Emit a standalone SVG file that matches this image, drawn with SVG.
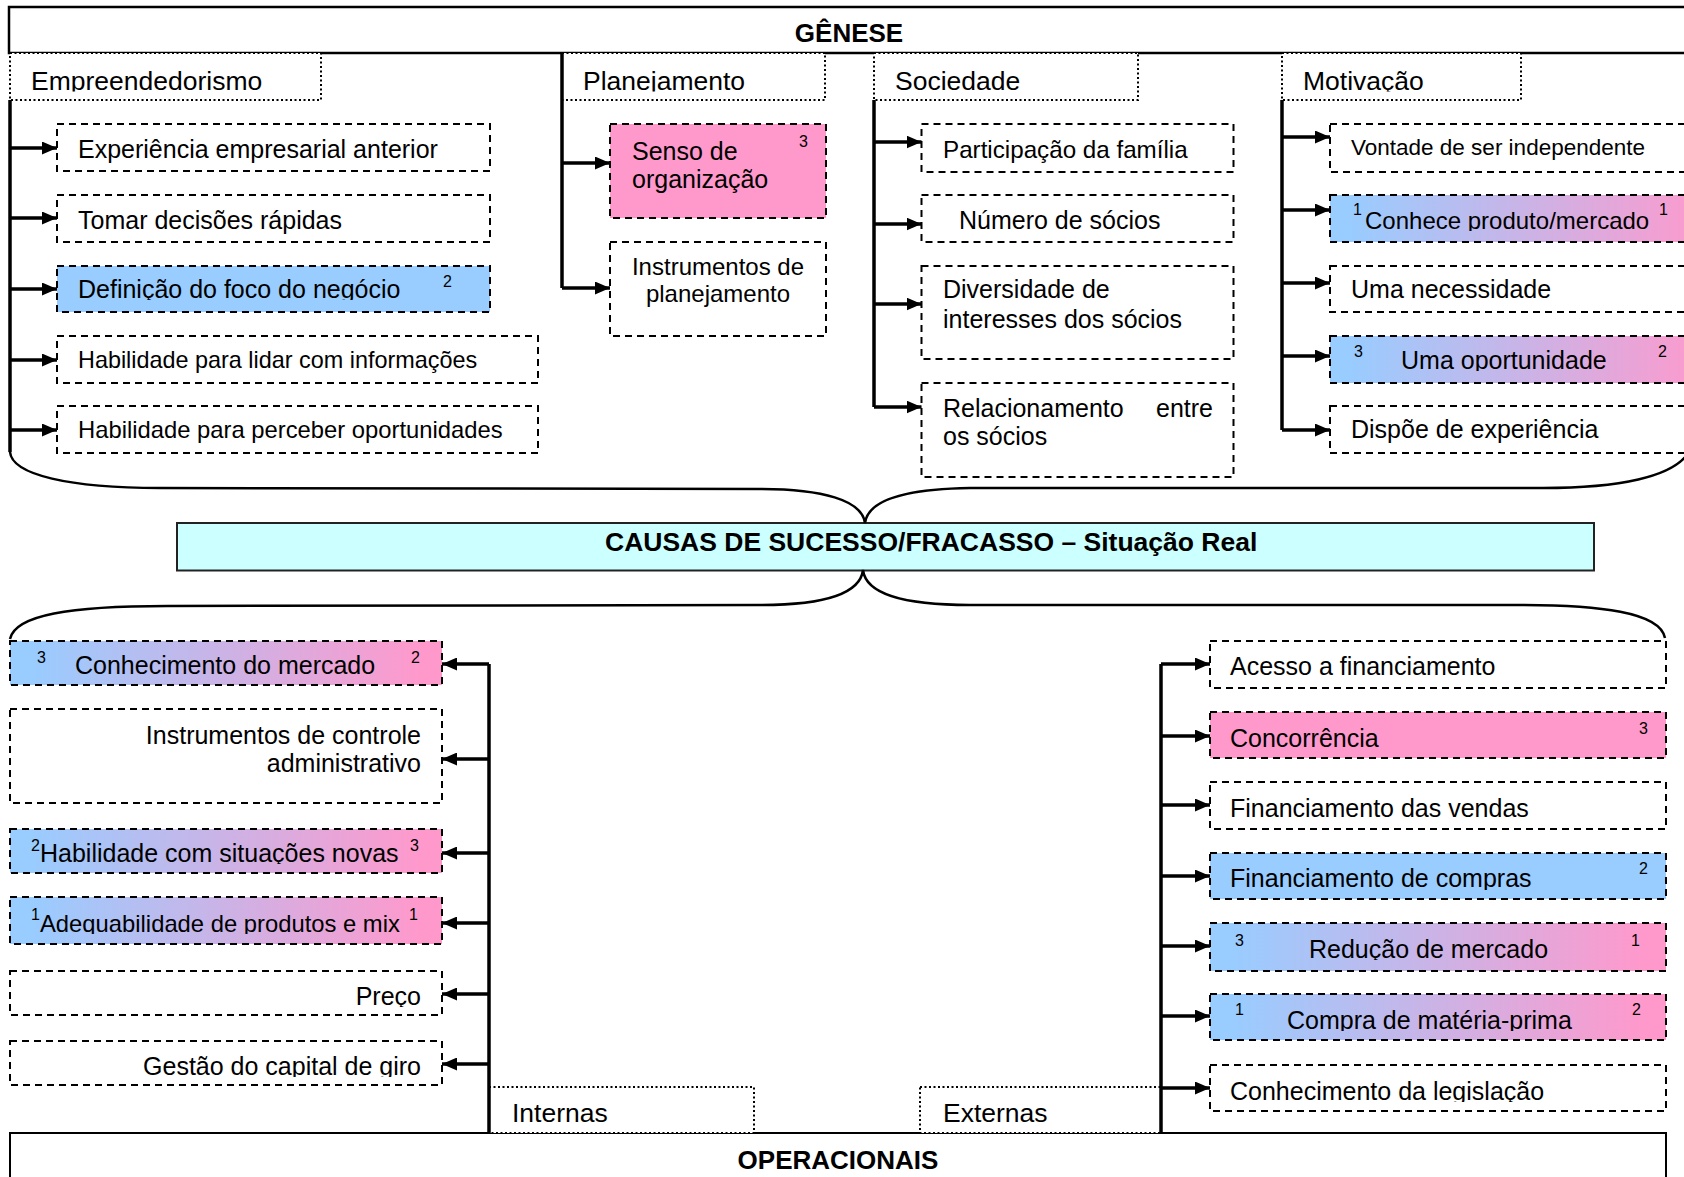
<svg xmlns="http://www.w3.org/2000/svg" width="1684" height="1177" viewBox="0 0 1684 1177">
<style>
.box{fill:#fff;stroke:#000;stroke-width:2;stroke-dasharray:7 5}
.blue{fill:#99CCFF}
.pink{fill:#FF99CC}
.grad{fill:url(#g)}
.hdr{fill:#fff;stroke:#000;stroke-width:2;stroke-dasharray:2 2.5}
.frame{fill:#fff;stroke:#000;stroke-width:2.5}
.conn{stroke:#000;stroke-width:3.5;fill:none;marker-end:url(#arr)}
.trunk{stroke:#000;stroke-width:3.5;fill:none}
.brace{stroke:#000;stroke-width:2.5;fill:none}
text{font-family:"Liberation Sans",Arial,sans-serif;font-size:25px;fill:#000}
.h{font-size:26.5px}
.b{font-weight:bold;font-size:26px}
.s{font-size:16px}
.mid{text-anchor:middle}
.end{text-anchor:end}
</style>
<defs>
<linearGradient id="g" x1="0" y1="0" x2="1" y2="0">
<stop offset="0" stop-color="#99CCFF"/><stop offset="0.05" stop-color="#99CCFF"/>
<stop offset="0.95" stop-color="#FF99CC"/><stop offset="1" stop-color="#FF99CC"/>
</linearGradient>
<marker id="arr" markerUnits="userSpaceOnUse" markerWidth="15" markerHeight="13" refX="15" refY="6.5" orient="auto"><path d="M0,0 L15,6.5 L0,13 z" fill="#000"/></marker>
<clipPath id="cH"><rect x="0" y="54" width="1684" height="37.5"/></clipPath>
<clipPath id="cE3"><rect x="57" y="266" width="433" height="34"/></clipPath>
<clipPath id="cM2"><rect x="1330" y="195" width="400" height="36"/></clipPath>
<clipPath id="cM4"><rect x="1330" y="336" width="400" height="35"/></clipPath>
<clipPath id="cI3"><rect x="10" y="829" width="432" height="35"/></clipPath>
<clipPath id="cI4"><rect x="10" y="897" width="432" height="37"/></clipPath>
<clipPath id="cI5"><rect x="10" y="971" width="432" height="36"/></clipPath>
<clipPath id="cI6"><rect x="10" y="1041" width="432" height="36"/></clipPath>
<clipPath id="cX4"><rect x="1210" y="853" width="456" height="37"/></clipPath>
<clipPath id="cX5"><rect x="1210" y="923" width="456" height="37"/></clipPath>
<clipPath id="cX6"><rect x="1210" y="994" width="456" height="37"/></clipPath>
<clipPath id="cX7"><rect x="1210" y="1065" width="456" height="37"/></clipPath>
</defs>
<rect width="1684" height="1177" fill="#fff"/>

<g id="genese">
<rect class="frame" x="9" y="7" width="1700" height="46"/>
<text class="b mid" x="849" y="42">GÊNESE</text>
</g>

<g id="operacionais">
<rect class="frame" style="stroke-width:2" x="10" y="1133" width="1656" height="100"/>
<text class="b mid" x="838" y="1169">OPERACIONAIS</text>
</g>

<g id="causas">
<rect x="177" y="523" width="1417" height="47.5" fill="#CCFFFF" stroke="#222" stroke-width="2"/>
<text class="b" style="font-size:26.5px" x="605" y="551">CAUSAS DE SUCESSO/FRACASSO – Situação Real</text>
</g>

<g id="h-empreendedorismo"><rect class="hdr" x="10" y="53" width="311" height="47"/><text class="h" x="31" y="89.5" clip-path="url(#cH)">Empreendedorismo</text></g>
<g id="h-planejamento"><rect class="hdr" x="562" y="53" width="263" height="47"/><text class="h" x="583" y="89.5" clip-path="url(#cH)">Planejamento</text></g>
<g id="h-sociedade"><rect class="hdr" x="874" y="53" width="264" height="47"/><text class="h" x="895" y="89.5" clip-path="url(#cH)">Sociedade</text></g>
<g id="h-motivacao"><rect class="hdr" x="1282" y="53" width="239" height="47"/><text class="h" x="1303" y="89.5" clip-path="url(#cH)">Motivação</text></g>

<g id="e1"><rect class="box" x="57" y="124" width="433" height="47"/><text x="78" y="158">Experiência empresarial anterior</text></g>
<g id="e2"><rect class="box" x="57" y="195" width="433" height="47"/><text x="78" y="229">Tomar decisões rápidas</text></g>
<g id="e3"><rect class="box blue" x="57" y="266" width="433" height="46"/><text x="78" y="298" clip-path="url(#cE3)">Definição do foco do negócio</text><text class="s" x="443" y="287">2</text></g>
<g id="e4"><rect class="box" x="57" y="336" width="481" height="47"/><text x="78" y="368" style="font-size:23.4px">Habilidade para lidar com informações</text></g>
<g id="e5"><rect class="box" x="57" y="406" width="481" height="47"/><text x="78" y="438" style="font-size:23.8px">Habilidade para perceber oportunidades</text></g>

<g id="p1"><rect class="box pink" x="610" y="124" width="216" height="94"/><text x="632" y="160">Senso de</text><text x="632" y="188">organização</text><text class="s" x="799" y="147">3</text></g>
<g id="p2"><rect class="box" x="610" y="242" width="216" height="94"/><text class="mid" x="718" y="275" style="font-size:24px">Instrumentos de</text><text class="mid" x="718" y="302" style="font-size:24px">planejamento</text></g>

<g id="s1"><rect class="box" x="921.5" y="124" width="312" height="48"/><text x="943" y="158" style="font-size:24.2px">Participação da família</text></g>
<g id="s2"><rect class="box" x="921.5" y="195" width="312" height="47"/><text x="959" y="229">Número de sócios</text></g>
<g id="s3"><rect class="box" x="921.5" y="266" width="312" height="93"/><text x="943" y="298">Diversidade de</text><text x="943" y="328">interesses dos sócios</text></g>
<g id="s4"><rect class="box" x="921.5" y="383" width="312" height="94"/><text x="943" y="417">Relacionamento</text><text class="end" x="1213" y="417">entre</text><text x="943" y="445">os sócios</text></g>

<g id="m1"><rect class="box" x="1330" y="124" width="400" height="48"/><text x="1351" y="155" style="font-size:22.5px">Vontade de ser independente</text></g>
<g id="m2"><rect class="box grad" x="1330" y="195" width="400" height="47"/><text class="s" x="1353" y="215">1</text><text x="1365" y="229" style="font-size:24px" clip-path="url(#cM2)">Conhece produto/mercado</text><text class="s" x="1659" y="215">1</text></g>
<g id="m3"><rect class="box" x="1330" y="266" width="400" height="46"/><text x="1351" y="298">Uma necessidade</text></g>
<g id="m4"><rect class="box grad" x="1330" y="336" width="400" height="47"/><text class="s" x="1354" y="357">3</text><text x="1401" y="369" clip-path="url(#cM4)">Uma oportunidade</text><text class="s" x="1658" y="357">2</text></g>
<g id="m5"><rect class="box" x="1330" y="406" width="400" height="47"/><text x="1351" y="438">Dispõe de experiência</text></g>

<g id="i1"><rect class="box grad" x="10" y="641" width="432" height="44"/><text class="s" x="37" y="663">3</text><text x="75" y="674">Conhecimento do mercado</text><text class="s" x="411" y="663">2</text></g>
<g id="i2"><rect class="box" x="10" y="709" width="432" height="94"/><text class="end" x="421" y="744">Instrumentos de controle</text><text class="end" x="421" y="772">administrativo</text></g>
<g id="i3"><rect class="box grad" x="10" y="829" width="432" height="44"/><text class="s" x="31" y="851">2</text><text x="40" y="862" clip-path="url(#cI3)">Habilidade com situações novas</text><text class="s" x="410" y="851">3</text></g>
<g id="i4"><rect class="box grad" x="10" y="897" width="432" height="47"/><text class="s" x="31" y="920">1</text><text x="40" y="932" style="font-size:23.8px" clip-path="url(#cI4)">Adequabilidade de produtos e mix</text><text class="s" x="409" y="920">1</text></g>
<g id="i5"><rect class="box" x="10" y="971" width="432" height="44"/><text class="end" x="421" y="1005" clip-path="url(#cI5)">Preço</text></g>
<g id="i6"><rect class="box" x="10" y="1041" width="432" height="44"/><text class="end" x="421" y="1075" clip-path="url(#cI6)">Gestão do capital de giro</text></g>
<g id="internas"><rect class="hdr" x="489" y="1087" width="265" height="46"/><text class="h" x="512" y="1122">Internas</text></g>

<g id="x1"><rect class="box" x="1210" y="641" width="456" height="47"/><text x="1230" y="675">Acesso a financiamento</text></g>
<g id="x2"><rect class="box pink" x="1210" y="712" width="456" height="46"/><text x="1230" y="747">Concorrência</text><text class="s" x="1639" y="734">3</text></g>
<g id="x3"><rect class="box" x="1210" y="782" width="456" height="47"/><text x="1230" y="817">Financiamento das vendas</text></g>
<g id="x4"><rect class="box blue" x="1210" y="853" width="456" height="46"/><text x="1230" y="887" clip-path="url(#cX4)">Financiamento de compras</text><text class="s" x="1639" y="874">2</text></g>
<g id="x5"><rect class="box grad" x="1210" y="923" width="456" height="48"/><text class="s" x="1235" y="946">3</text><text x="1309" y="958" clip-path="url(#cX5)">Redução de mercado</text><text class="s" x="1631" y="946">1</text></g>
<g id="x6"><rect class="box grad" x="1210" y="994" width="456" height="46"/><text class="s" x="1235" y="1015">1</text><text x="1287" y="1029" clip-path="url(#cX6)">Compra de matéria-prima</text><text class="s" x="1632" y="1015">2</text></g>
<g id="x7"><rect class="box" x="1210" y="1065" width="456" height="46"/><text x="1230" y="1100" clip-path="url(#cX7)">Conhecimento da legislação</text></g>
<g id="externas"><rect class="hdr" x="920" y="1087" width="241" height="46"/><text class="h" x="943" y="1122">Externas</text></g>

<g id="connectors">
<path class="brace" d="M10,452 C12,475 70,488 160,488 L760,489 C822,489 862,500 865,523 C868,500 905,489 970,488 L1543,488 C1615,488 1676,478 1690,450"/>
<path class="brace" d="M10,639 C15,615 70,606 167,606 L760,605 C822,605 860,595 863,570 C866,595 905,605 970,605 L1517,605 C1600,605 1660,612 1665,638"/>
<path class="trunk" d="M10,100 V452"/>
<path class="trunk" d="M562,53 V288"/>
<path class="trunk" d="M874,100 V407"/>
<path class="trunk" d="M1282,100 V430"/>
<path class="trunk" d="M489,664 V1133"/>
<path class="trunk" d="M1161,664 V1133"/>
<path class="conn" d="M10,148 H57"/>
<path class="conn" d="M10,218 H57"/>
<path class="conn" d="M10,289 H57"/>
<path class="conn" d="M10,360 H57"/>
<path class="conn" d="M10,430 H57"/>
<path class="conn" d="M562,163 H610"/>
<path class="conn" d="M562,288 H610"/>
<path class="conn" d="M874,142 H921.5"/>
<path class="conn" d="M874,224 H921.5"/>
<path class="conn" d="M874,304 H921.5"/>
<path class="conn" d="M874,407 H921.5"/>
<path class="conn" d="M1282,137 H1330"/>
<path class="conn" d="M1282,210 H1330"/>
<path class="conn" d="M1282,283 H1330"/>
<path class="conn" d="M1282,356 H1330"/>
<path class="conn" d="M1282,430 H1330"/>
<path class="conn" d="M489,664 H442"/>
<path class="conn" d="M489,759 H442"/>
<path class="conn" d="M489,853 H442"/>
<path class="conn" d="M489,923 H442"/>
<path class="conn" d="M489,994 H442"/>
<path class="conn" d="M489,1064 H442"/>
<path class="conn" d="M1161,664 H1210"/>
<path class="conn" d="M1161,736 H1210"/>
<path class="conn" d="M1161,805 H1210"/>
<path class="conn" d="M1161,876 H1210"/>
<path class="conn" d="M1161,946 H1210"/>
<path class="conn" d="M1161,1016 H1210"/>
<path class="conn" d="M1161,1088 H1210"/>
</g>
</svg>
